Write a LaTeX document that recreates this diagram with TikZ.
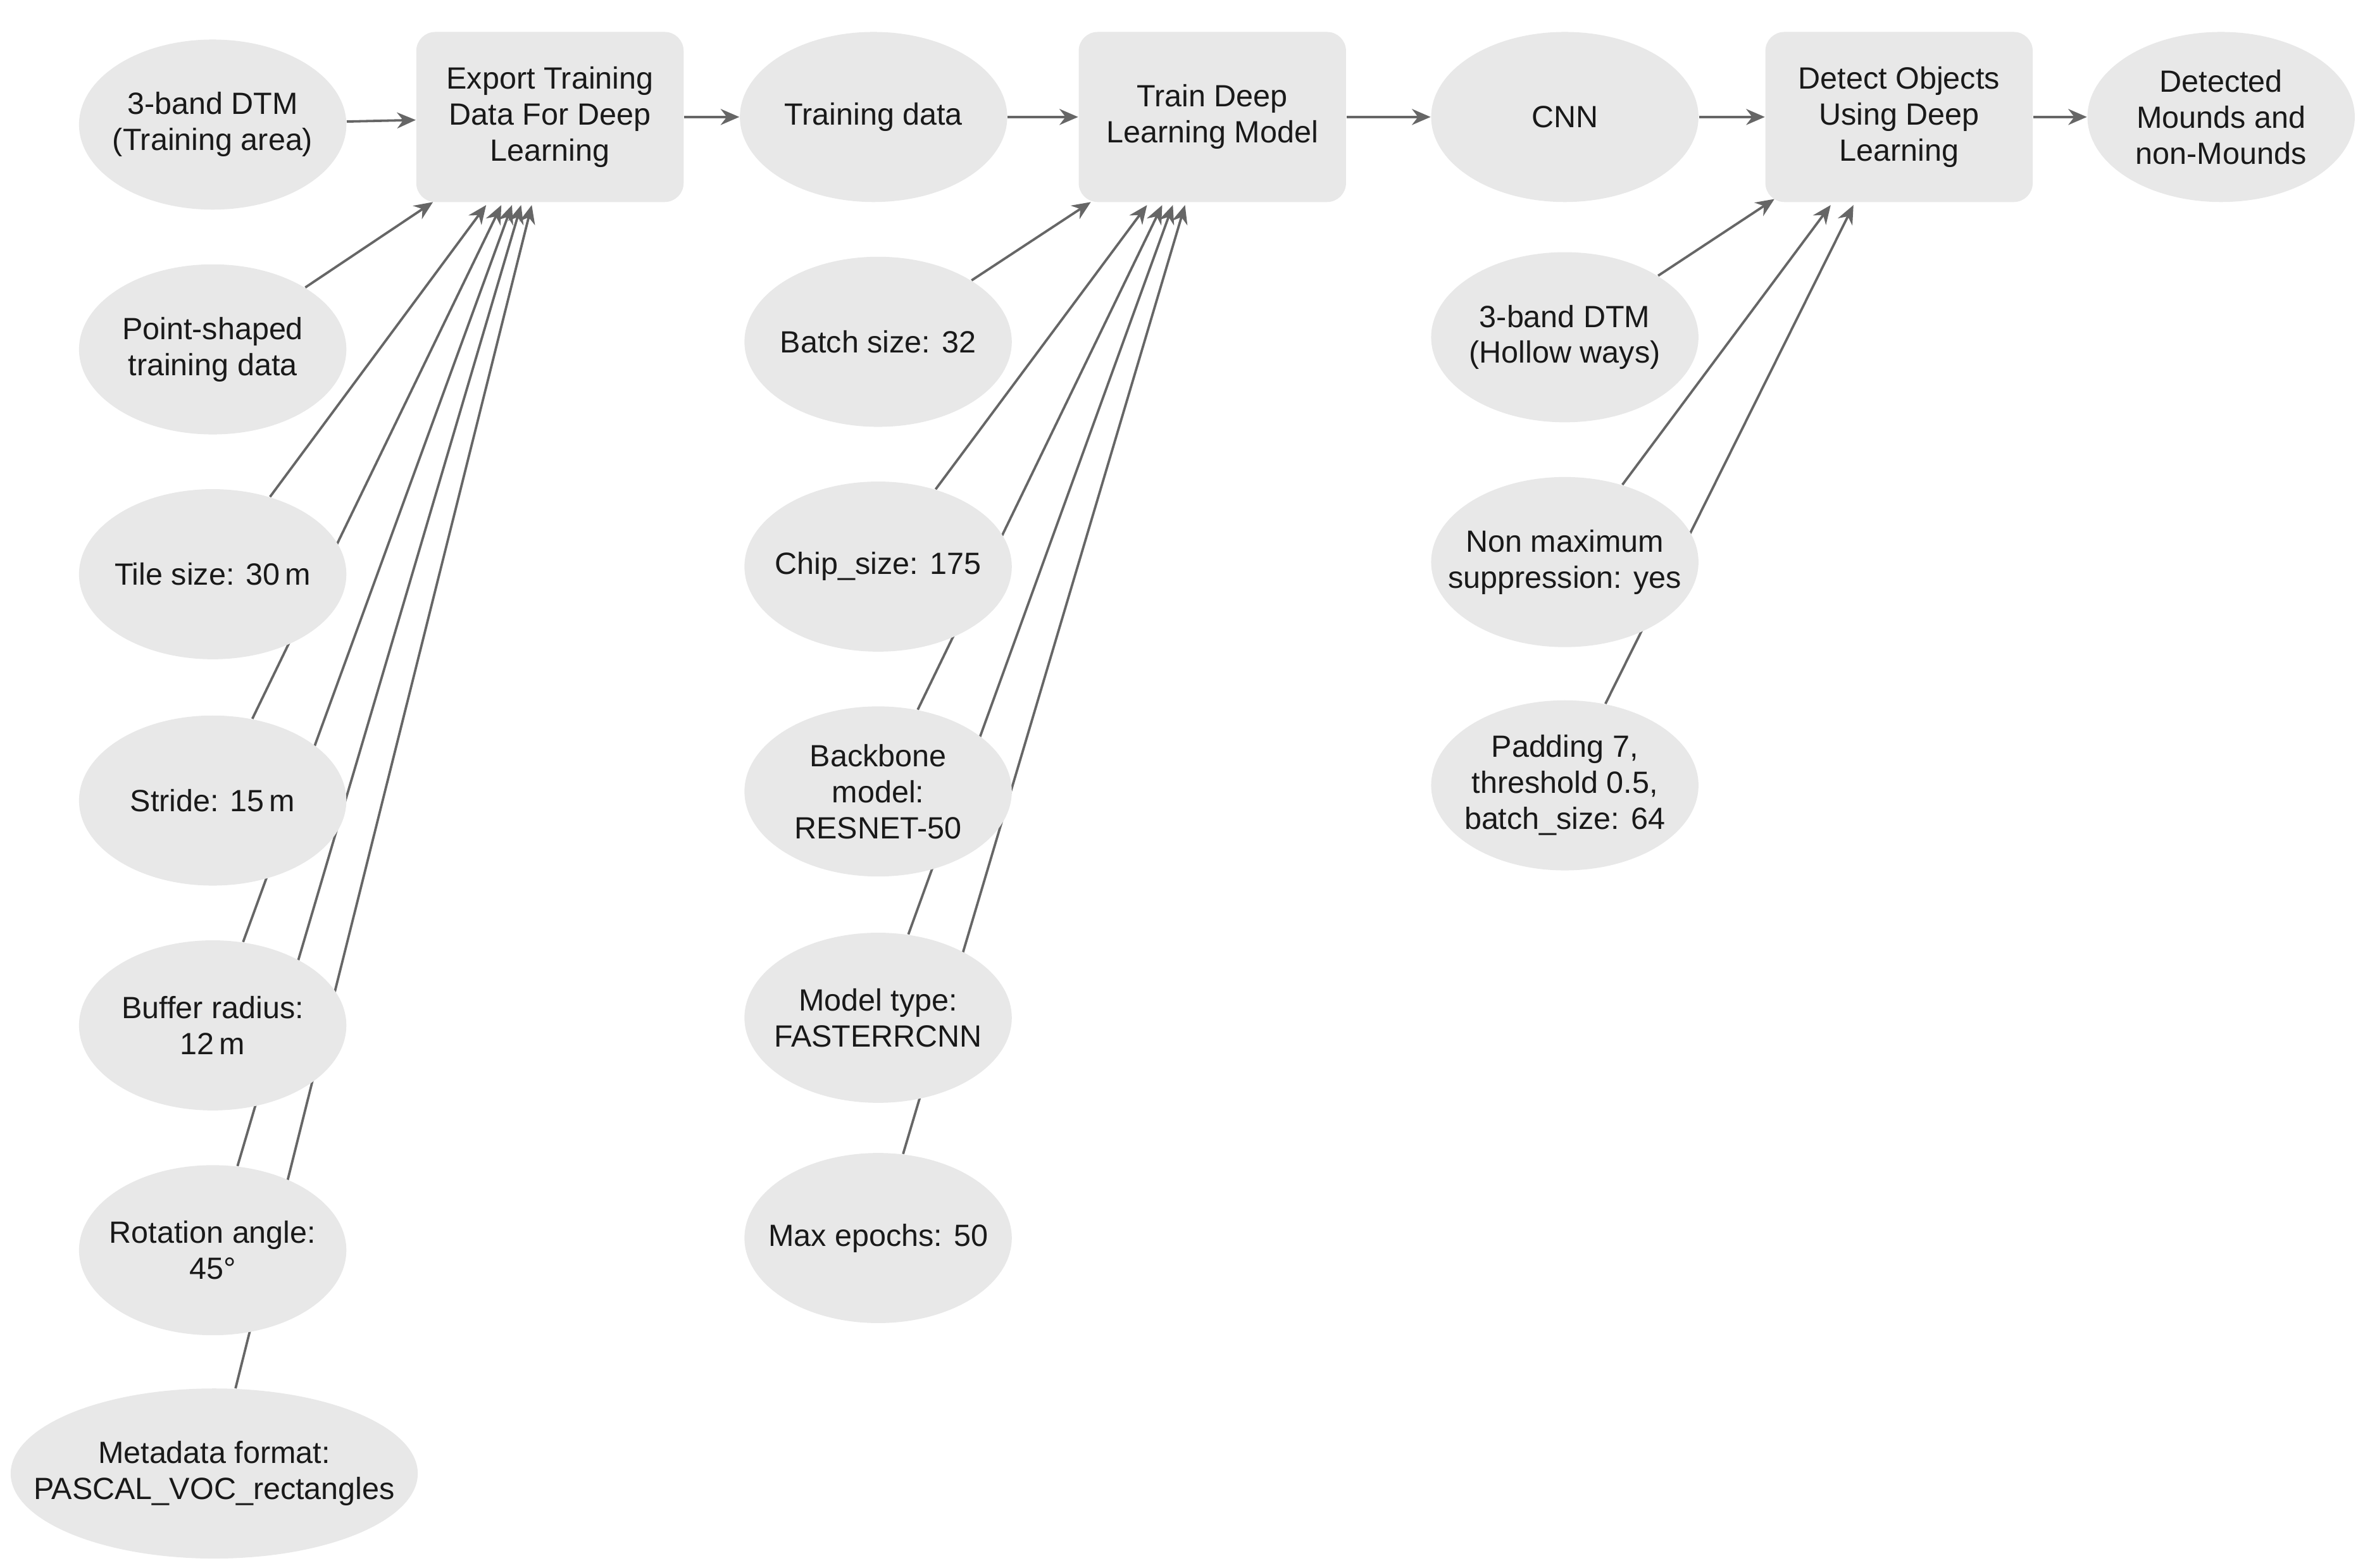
\documentclass[tikz,border=0pt]{standalone}
\usepackage{fontspec}
\setmainfont{Liberation Sans}
\usetikzlibrary{backgrounds,arrows.meta,calc,shapes.geometric}
\begin{document}
\begin{tikzpicture}[x=0.02cm,y=-0.02cm,
  every node/.style={font=\fontsize{11.5}{13.5}\selectfont,align=center,text=black!90},
  ell/.style={ellipse,fill=black!9,minimum width=3.52cm,minimum height=2.24cm,inner xsep=-0.4cm,inner ysep=-0.2cm},
  box/.style={rectangle,rounded corners=0.25cm,fill=black!9,minimum width=3.52cm,minimum height=2.24cm,inner sep=0pt},
  con/.style={draw=black!60,line width=0.9pt},
  arr/.style={con,-{Stealth[length=7pt,width=6pt]}}]
\useasboundingbox (0,0) rectangle (1560,1032);
% main row
\node[ell] (dtm) at (140,82) {3-band DTM\\(Training area)};
\node[box] (exp) at (362,77) {Export Training\\Data For Deep\\Learning};
\node[ell] (td) at (575,77) {Training data};
\node[box] (train) at (798,77) {Train Deep\\Learning Model};
\node[ell] (cnn) at (1030,77) {CNN};
\node[box] (det) at (1250,77) {Detect Objects\\Using Deep\\Learning};
\node[ell] (out) at (1462,77) {Detected\\Mounds and\\non-Mounds};
% column 1
\node[ell] (pt) at (140,230) {Point-shaped\\training data};
\node[ell] (tile) at (140,378) {Tile size: 30\,m};
\node[ell] (stride) at (140,527) {Stride: 15\,m};
\node[ell] (buf) at (140,675) {Buffer radius:\\12\,m};
\node[ell] (rot) at (140,823) {Rotation angle:\\45°};
\node[ell,minimum width=5.36cm,inner xsep=-0.9cm] (meta) at (141,970) {Metadata format:\\PASCAL\_VOC\_rectangles};
% column 2
\node[ell] (batch) at (578,225) {Batch size: 32};
\node[ell] (chip) at (578,373) {Chip\_size: 175};
\node[ell] (bb) at (578,521) {Backbone\\model:\\RESNET-50};
\node[ell] (mt) at (578,670) {Model type:\\FASTERRCNN};
\node[ell] (me) at (578,815) {Max epochs: 50};
% column 3
\node[ell] (dtm2) at (1030,222) {3-band DTM\\(Hollow ways)};
\node[ell] (nms) at (1030,370) {Non maximum\\suppression: yes};
\node[ell] (pad) at (1030,517) {Padding 7,\\threshold 0.5,\\batch\_size: 64};
\begin{scope}[on background layer]
\draw[arr] (dtm) -- (exp);
\draw[arr] (exp) -- (td);
\draw[arr] (td) -- (train);
\draw[arr] (train) -- (cnn);
\draw[arr] (cnn) -- (det);
\draw[arr] (det) -- (out);
\coordinate (e1) at (285,133); \coordinate (e2) at (320,135); \coordinate (e3) at (330,135);
\coordinate (e4) at (337,135); \coordinate (e5) at (343,135); \coordinate (e6) at (350,135);
\draw[arr] (pt) -- (e1);
\draw[arr] (tile) -- (e2);
\draw[arr] (stride) -- (e3);
\draw[arr] (buf) -- (e4);
\draw[arr] (rot) -- (e5);
\draw[arr] (meta) -- (e6);
\coordinate (t1) at (718,133); \coordinate (t2) at (755,135); \coordinate (t3) at (765,135);
\coordinate (t4) at (772,135); \coordinate (t5) at (780,135);
\draw[arr] (batch) -- (t1);
\draw[arr] (chip) -- (t2);
\draw[arr] (bb) -- (t3);
\draw[arr] (mt) -- (t4);
\draw[arr] (me) -- (t5);
\coordinate (d1) at (1168,131); \coordinate (d2) at (1205,135); \coordinate (d3) at (1220,135);
\draw[arr] (dtm2) -- (d1);
\draw[arr] (nms) -- (d2);
\draw[arr] (pad) -- (d3);
\end{scope}
\end{tikzpicture}
\end{document}
